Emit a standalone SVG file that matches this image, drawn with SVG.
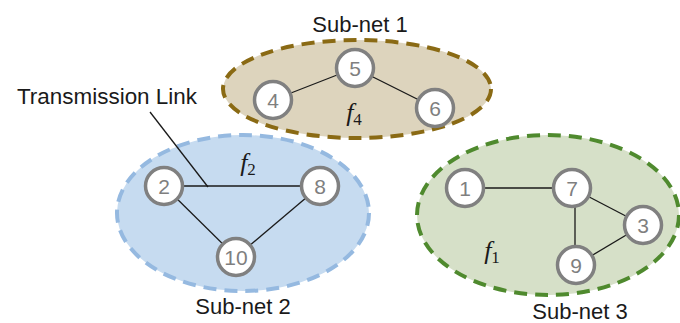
<svg xmlns="http://www.w3.org/2000/svg" width="680" height="323" viewBox="0 0 680 323">
<style>
.lbl{font-family:"Liberation Sans",Arial,sans-serif;font-size:22px;fill:#1a1a1a;text-anchor:middle}
.node circle{fill:#fff;stroke:#808080;stroke-width:3.5}
.node text{font-family:"Liberation Sans",Arial,sans-serif;font-size:21px;fill:#7f7f7f;text-anchor:middle}
.f{font-family:"Liberation Serif","Times New Roman",serif;font-size:26px;fill:#1a1a1a;text-anchor:middle}
.f .v{font-style:italic}
.f .s{font-size:17px}
.edge{stroke:#1a1a1a;stroke-width:1.3;fill:none}
.net{stroke-width:4;stroke-dasharray:13 8}
</style>
<rect width="680" height="323" fill="#fff"/>
<g id="subnet1">
<ellipse class="net" cx="357" cy="89" rx="134" ry="49" fill="#ddd4bd" stroke="#8a6a14"/>
<text class="lbl" x="360" y="32">Sub-net 1</text>
<text class="f" x="354" y="121"><tspan class="v">f</tspan><tspan class="s" dy="4">4</tspan></text>
</g>
<g id="subnet2">
<ellipse class="net" cx="243" cy="213" rx="126" ry="78" fill="#c6dbf0" stroke="#95b9e0"/>
<text class="lbl" x="243" y="314">Sub-net 2</text>
<text class="f" x="248" y="171"><tspan class="v">f</tspan><tspan class="s" dy="4">2</tspan></text>
</g>
<g id="subnet3">
<ellipse class="net" cx="548" cy="215" rx="131" ry="80" fill="#d6e0c8" stroke="#4f8a2e"/>
<text class="lbl" x="580" y="319">Sub-net 3</text>
<text class="f" x="492" y="259"><tspan class="v">f</tspan><tspan class="s" dy="4">1</tspan></text>
</g>
<g id="connectors">
<line class="edge" x1="273" y1="100" x2="355" y2="68"/>
<line class="edge" x1="355" y1="68" x2="435" y2="108"/>
<line class="edge" x1="164" y1="186" x2="320" y2="186"/>
<line class="edge" x1="164" y1="186" x2="236" y2="257"/>
<line class="edge" x1="320" y1="186" x2="236" y2="257"/>
<line class="edge" x1="465" y1="188" x2="572" y2="188"/>
<line class="edge" x1="572" y1="188" x2="643" y2="225"/>
<line class="edge" x1="575" y1="188" x2="575" y2="265"/>
<line class="edge" x1="576" y1="265" x2="643" y2="225"/>
<line class="edge" x1="150" y1="112" x2="208" y2="187"/>
</g>
<g id="transmission-link-label"><text class="lbl" x="107" y="104" textLength="180" lengthAdjust="spacingAndGlyphs">Transmission Link</text></g>
<g id="n4" class="node"><circle cx="273" cy="100" r="18.5"/><text x="273" y="107.5">4</text></g>
<g id="n5" class="node"><circle cx="355" cy="68" r="18.5"/><text x="355" y="75.5">5</text></g>
<g id="n6" class="node"><circle cx="435" cy="108" r="18.5"/><text x="435" y="115.5">6</text></g>
<g id="n2" class="node"><circle cx="164" cy="186" r="18.5"/><text x="164" y="193.5">2</text></g>
<g id="n8" class="node"><circle cx="320" cy="186" r="18.5"/><text x="320" y="193.5">8</text></g>
<g id="n10" class="node"><circle cx="236" cy="257" r="18.5"/><text x="236" y="264.5">10</text></g>
<g id="n1" class="node"><circle cx="465" cy="188" r="18.5"/><text x="465" y="195.5">1</text></g>
<g id="n7" class="node"><circle cx="572" cy="188" r="18.5"/><text x="572" y="195.5">7</text></g>
<g id="n3" class="node"><circle cx="643" cy="225" r="18.5"/><text x="643" y="232.5">3</text></g>
<g id="n9" class="node"><circle cx="576" cy="265" r="18.5"/><text x="576" y="272.5">9</text></g>
</svg>
